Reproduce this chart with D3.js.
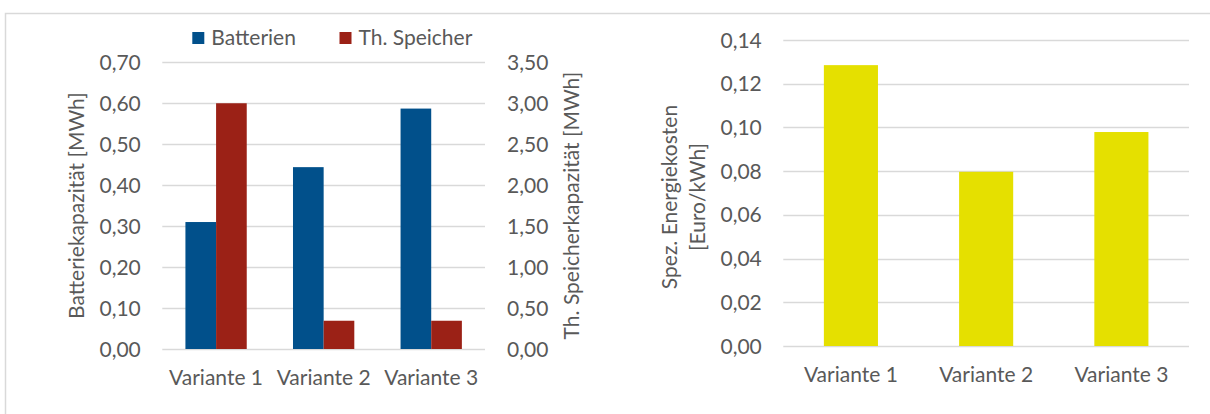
<!DOCTYPE html>
<html lang="de">
<head>
<meta charset="utf-8">
<script src="https://cdn.jsdelivr.net/npm/d3@7"></script>
<style>
  html, body { margin: 0; padding: 0; background: #ffffff; }
  svg { display: block; }
  text { font-family: Lato, "Open Sans", sans-serif; fill: #595959; }
</style>
</head>
<body>
<svg id="chart" width="1210" height="414"></svg>
<script>
// Kategorien und Messwerte
const categories = ["Variante 1", "Variante 2", "Variante 3"];
const seriesNames = ["Batterien", "Th. Speicher"];
const batteryMWh = [0.31, 0.444, 0.587];
const thermalMWh = [3.00, 0.345, 0.345];
const energyCost = [0.1285, 0.0797, 0.0979];

// Achsenbeschriftungen
const batteryTicks = [0, 0.1, 0.2, 0.3, 0.4, 0.5, 0.6, 0.7];
const thermalTicks = [0, 0.5, 1.0, 1.5, 2.0, 2.5, 3.0, 3.5];
const costTicks = [0, 0.02, 0.04, 0.06, 0.08, 0.10, 0.12, 0.14];
const batteryTitle = "Batteriekapazität [MWh]";
const thermalTitle = "Th. Speicherkapazität [MWh]";
const costTitle = ["Spez. Energiekosten", "[Euro/kWh]"];

const colors = { battery: "#01508b", thermal: "#9b2116", cost: "#e5e000" };
const gridColor = "#d9d9d9";
const fontSize = 21;

const de = d3.formatLocale({ decimal: ",", thousands: ".", grouping: [3], currency: ["", " €"] });
const fmt2 = de.format(".2f");

const svg = d3.select("#chart");

// Rahmen um beide Diagramme
svg.append("rect")
  .attr("x", 5.5).attr("y", 13.5)
  .attr("width", 1300).attr("height", 500)
  .attr("fill", "none").attr("stroke", gridColor).attr("stroke-width", 1.5);

function gridAndTicks(g, y, ticks, x0, x1, side) {
  g.append("g").selectAll("line").data(ticks).join("line")
    .attr("x1", x0).attr("x2", x1)
    .attr("y1", d => Math.round(y(d)) + 0.5).attr("y2", d => Math.round(y(d)) + 0.5)
    .attr("stroke", gridColor).attr("stroke-width", 1.3);
}

function tickLabels(g, y, ticks, x, anchor) {
  g.append("g").selectAll("text").data(ticks).join("text")
    .attr("x", x).attr("y", d => y(d))
    .attr("dy", "0.36em")
    .attr("text-anchor", anchor)
    .attr("font-size", fontSize)
    .text(d => fmt2(d));
}

// ---------- Linkes Diagramm: Speicherkapazitäten ----------
{
  const plotL = 162.3, plotR = 485, plotT = 62.3, plotB = 349;
  const g = svg.append("g");

  const y = d3.scaleLinear().domain([0, 0.7]).range([plotB, plotT]);
  const y2 = d3.scaleLinear().domain([0, 3.5]).range([plotB, plotT]);
  const x = d3.scaleBand().domain(categories).range([plotL, plotR])
    .paddingInner(0.43).paddingOuter(0.215);
  const xs = d3.scaleBand().domain(seriesNames).range([0, x.bandwidth()]).padding(0);

  gridAndTicks(g, y, batteryTicks, plotL, plotR);

  const rows = categories.map((c, i) => ({ c, b: batteryMWh[i], t: thermalMWh[i] }));
  g.append("g").selectAll("rect").data(rows).join("rect")
    .attr("x", d => x(d.c) + xs("Batterien"))
    .attr("width", xs.bandwidth())
    .attr("y", d => y(d.b))
    .attr("height", d => y(0) - y(d.b))
    .attr("fill", colors.battery);
  g.append("g").selectAll("rect").data(rows).join("rect")
    .attr("x", d => x(d.c) + xs("Th. Speicher"))
    .attr("width", xs.bandwidth())
    .attr("y", d => y2(d.t))
    .attr("height", d => y2(0) - y2(d.t))
    .attr("fill", colors.thermal);

  tickLabels(g, y, batteryTicks, plotL - 21.5, "end");
  tickLabels(g, y2, thermalTicks, plotR + 22, "start");

  g.append("g").selectAll("text").data(categories).join("text")
    .attr("x", d => x(d) + x.bandwidth() / 2)
    .attr("y", plotB + 36)
    .attr("text-anchor", "middle")
    .attr("font-size", fontSize)
    .text(d => d);

  const midY = (plotT + plotB) / 2;
  g.append("text")
    .attr("transform", `translate(84,${midY}) rotate(-90)`)
    .attr("text-anchor", "middle")
    .attr("font-size", fontSize)
    .text(batteryTitle);
  g.append("text")
    .attr("transform", `translate(579,${midY}) rotate(-90)`)
    .attr("text-anchor", "middle")
    .attr("font-size", fontSize)
    .text(thermalTitle);

  // Legende
  const legend = [
    { name: seriesNames[0], color: colors.battery, x: 192.3 },
    { name: seriesNames[1], color: colors.thermal, x: 339.5 }
  ];
  const lg = g.append("g").selectAll("g").data(legend).join("g")
    .attr("transform", d => `translate(${d.x},32)`);
  lg.append("rect").attr("width", 12).attr("height", 12).attr("fill", d => d.color);
  lg.append("text").attr("x", 19).attr("y", 12.7)
    .attr("font-size", fontSize).text(d => d.name);
}

// ---------- Rechtes Diagramm: spezifische Energiekosten ----------
{
  const plotL = 783.3, plotR = 1189, plotT = 40, plotB = 346;
  const g = svg.append("g");

  const y = d3.scaleLinear().domain([0, 0.14]).range([plotB, plotT]);
  const x = d3.scaleBand().domain(categories).range([plotL, plotR])
    .paddingInner(0.6).paddingOuter(0.3);

  gridAndTicks(g, y, costTicks, plotL, plotR);

  g.append("g").selectAll("rect").data(categories).join("rect")
    .attr("x", d => x(d))
    .attr("width", x.bandwidth())
    .attr("y", (d, i) => y(energyCost[i]))
    .attr("height", (d, i) => y(0) - y(energyCost[i]))
    .attr("fill", colors.cost);

  tickLabels(g, y, costTicks, plotL - 21.5, "end");

  g.append("g").selectAll("text").data(categories).join("text")
    .attr("x", d => x(d) + x.bandwidth() / 2)
    .attr("y", plotB + 36)
    .attr("text-anchor", "middle")
    .attr("font-size", fontSize)
    .text(d => d);

  const midY = 197;
  g.append("g").selectAll("text").data(costTitle).join("text")
    .attr("transform", (d, i) => `translate(${677 + i * 28},${midY}) rotate(-90)`)
    .attr("text-anchor", "middle")
    .attr("font-size", fontSize)
    .text(d => d);
}
</script>
</body>
</html>
